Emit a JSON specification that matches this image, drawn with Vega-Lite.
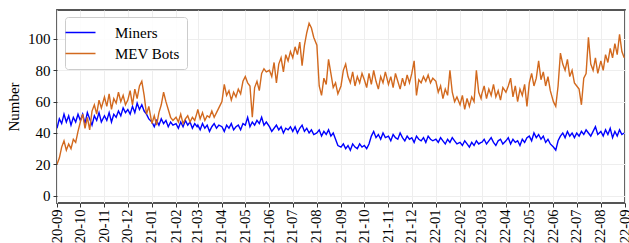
{
  "$schema": "https://vega.github.io/schema/vega-lite/v6.json",
  "width": 568,
  "height": 193,
  "autosize": {"type": "none"},
  "padding": {"left": 57, "top": 10, "right": 4, "bottom": 40},
  "background": "white",
  "config": {
    "view": {"stroke": "#555555", "strokeWidth": 1.8},
    "font": "Liberation Serif",
    "axis": {
      "labelFont": "Liberation Serif",
      "titleFont": "Liberation Serif",
      "labelFontSize": 15,
      "titleFontSize": 15,
      "titleFontWeight": "normal",
      "labelColor": "black",
      "titleColor": "black",
      "labelOverlap": false,
      "domain": false,
      "tickColor": "#333333",
      "tickSize": 4,
      "gridColor": "#eeeeee",
      "gridWidth": 1
    },
    "axisY": {"labelOverlap": false, "labelBound": false}
  },
  "data": {"values": [
    {"d":"2020-09-01","m":43,"b":20},{"d":"2020-09-04","m":49,"b":24},{"d":"2020-09-07","m":46,"b":31},{"d":"2020-09-10","m":52,"b":35},{"d":"2020-09-13","m":47,"b":29},{"d":"2020-09-16","m":51,"b":33},{"d":"2020-09-19","m":45,"b":30},{"d":"2020-09-22","m":50,"b":36},{"d":"2020-09-25","m":47,"b":34},{"d":"2020-09-28","m":52,"b":41},
    {"d":"2020-10-01","m":48,"b":47},{"d":"2020-10-04","m":52,"b":52},{"d":"2020-10-07","m":46,"b":43},{"d":"2020-10-10","m":53,"b":50},{"d":"2020-10-13","m":49,"b":42},{"d":"2020-10-16","m":45,"b":54},{"d":"2020-10-19","m":51,"b":58},{"d":"2020-10-22","m":48,"b":52},{"d":"2020-10-25","m":53,"b":61},{"d":"2020-10-28","m":47,"b":56},
    {"d":"2020-11-01","m":51,"b":63},{"d":"2020-11-04","m":48,"b":57},{"d":"2020-11-07","m":53,"b":65},{"d":"2020-11-10","m":47,"b":55},{"d":"2020-11-13","m":52,"b":62},{"d":"2020-11-16","m":50,"b":59},{"d":"2020-11-19","m":54,"b":66},{"d":"2020-11-22","m":51,"b":60},{"d":"2020-11-25","m":56,"b":64},{"d":"2020-11-28","m":53,"b":58},
    {"d":"2020-12-01","m":55,"b":61},{"d":"2020-12-04","m":52,"b":67},{"d":"2020-12-07","m":57,"b":58},{"d":"2020-12-10","m":53,"b":68},{"d":"2020-12-13","m":59,"b":62},{"d":"2020-12-16","m":55,"b":70},{"d":"2020-12-19","m":58,"b":73},{"d":"2020-12-22","m":54,"b":64},{"d":"2020-12-25","m":52,"b":52},{"d":"2020-12-28","m":49,"b":57},
    {"d":"2021-01-01","m":47,"b":46},{"d":"2021-01-04","m":44,"b":51},{"d":"2021-01-07","m":48,"b":45},{"d":"2021-01-10","m":45,"b":53},{"d":"2021-01-13","m":49,"b":58},{"d":"2021-01-16","m":46,"b":66},{"d":"2021-01-19","m":48,"b":60},{"d":"2021-01-22","m":44,"b":55},{"d":"2021-01-25","m":47,"b":50},{"d":"2021-01-28","m":45,"b":48},
    {"d":"2021-02-01","m":46,"b":50},{"d":"2021-02-04","m":43,"b":47},{"d":"2021-02-07","m":47,"b":52},{"d":"2021-02-10","m":44,"b":46},{"d":"2021-02-13","m":48,"b":49},{"d":"2021-02-16","m":45,"b":51},{"d":"2021-02-19","m":47,"b":47},{"d":"2021-02-22","m":43,"b":50},{"d":"2021-02-25","m":46,"b":48},{"d":"2021-02-28","m":44,"b":53},
    {"d":"2021-03-01","m":45,"b":55},{"d":"2021-03-04","m":42,"b":49},{"d":"2021-03-07","m":46,"b":53},{"d":"2021-03-10","m":43,"b":48},{"d":"2021-03-13","m":45,"b":51},{"d":"2021-03-16","m":41,"b":50},{"d":"2021-03-19","m":44,"b":54},{"d":"2021-03-22","m":46,"b":50},{"d":"2021-03-25","m":43,"b":53},{"d":"2021-03-28","m":45,"b":56},
    {"d":"2021-04-01","m":44,"b":60},{"d":"2021-04-04","m":41,"b":71},{"d":"2021-04-07","m":45,"b":64},{"d":"2021-04-10","m":43,"b":67},{"d":"2021-04-13","m":46,"b":61},{"d":"2021-04-16","m":42,"b":66},{"d":"2021-04-19","m":44,"b":63},{"d":"2021-04-22","m":45,"b":68},{"d":"2021-04-25","m":42,"b":65},{"d":"2021-04-28","m":46,"b":73},
    {"d":"2021-05-01","m":45,"b":76},{"d":"2021-05-04","m":50,"b":72},{"d":"2021-05-07","m":44,"b":70},{"d":"2021-05-10","m":47,"b":50},{"d":"2021-05-13","m":45,"b":69},{"d":"2021-05-16","m":48,"b":73},{"d":"2021-05-19","m":46,"b":67},{"d":"2021-05-22","m":50,"b":78},{"d":"2021-05-25","m":45,"b":81},{"d":"2021-05-28","m":47,"b":79},
    {"d":"2021-06-01","m":44,"b":80},{"d":"2021-06-04","m":41,"b":76},{"d":"2021-06-07","m":43,"b":85},{"d":"2021-06-10","m":45,"b":72},{"d":"2021-06-13","m":42,"b":84},{"d":"2021-06-16","m":44,"b":88},{"d":"2021-06-19","m":40,"b":79},{"d":"2021-06-22","m":43,"b":90},{"d":"2021-06-25","m":42,"b":86},{"d":"2021-06-28","m":44,"b":92},
    {"d":"2021-07-01","m":41,"b":88},{"d":"2021-07-04","m":44,"b":95},{"d":"2021-07-07","m":40,"b":90},{"d":"2021-07-10","m":43,"b":98},{"d":"2021-07-13","m":45,"b":83},{"d":"2021-07-16","m":41,"b":96},{"d":"2021-07-19","m":43,"b":104},{"d":"2021-07-22","m":40,"b":110},{"d":"2021-07-25","m":42,"b":107},{"d":"2021-07-28","m":39,"b":101},
    {"d":"2021-08-01","m":40,"b":96},{"d":"2021-08-04","m":42,"b":70},{"d":"2021-08-07","m":38,"b":64},{"d":"2021-08-10","m":41,"b":75},{"d":"2021-08-13","m":39,"b":71},{"d":"2021-08-16","m":42,"b":87},{"d":"2021-08-19","m":38,"b":78},{"d":"2021-08-22","m":40,"b":69},{"d":"2021-08-25","m":36,"b":72},{"d":"2021-08-28","m":32,"b":65},
    {"d":"2021-09-01","m":31,"b":70},{"d":"2021-09-04","m":33,"b":80},{"d":"2021-09-07","m":30,"b":84},{"d":"2021-09-10","m":32,"b":76},{"d":"2021-09-13","m":29,"b":72},{"d":"2021-09-16","m":33,"b":79},{"d":"2021-09-19","m":31,"b":70},{"d":"2021-09-22","m":30,"b":76},{"d":"2021-09-25","m":33,"b":72},{"d":"2021-09-28","m":31,"b":78},
    {"d":"2021-10-01","m":32,"b":74},{"d":"2021-10-04","m":30,"b":69},{"d":"2021-10-07","m":33,"b":78},{"d":"2021-10-10","m":38,"b":71},{"d":"2021-10-13","m":41,"b":80},{"d":"2021-10-16","m":37,"b":73},{"d":"2021-10-19","m":39,"b":68},{"d":"2021-10-22","m":36,"b":76},{"d":"2021-10-25","m":40,"b":72},{"d":"2021-10-28","m":37,"b":79},
    {"d":"2021-11-01","m":38,"b":71},{"d":"2021-11-04","m":35,"b":76},{"d":"2021-11-07","m":39,"b":69},{"d":"2021-11-10","m":37,"b":78},{"d":"2021-11-13","m":36,"b":73},{"d":"2021-11-16","m":40,"b":68},{"d":"2021-11-19","m":37,"b":75},{"d":"2021-11-22","m":35,"b":70},{"d":"2021-11-25","m":38,"b":77},{"d":"2021-11-28","m":36,"b":72},
    {"d":"2021-12-01","m":37,"b":78},{"d":"2021-12-04","m":34,"b":86},{"d":"2021-12-07","m":38,"b":64},{"d":"2021-12-10","m":36,"b":74},{"d":"2021-12-13","m":35,"b":72},{"d":"2021-12-16","m":37,"b":76},{"d":"2021-12-19","m":34,"b":73},{"d":"2021-12-22","m":38,"b":77},{"d":"2021-12-25","m":36,"b":72},{"d":"2021-12-28","m":35,"b":75},
    {"d":"2022-01-01","m":36,"b":73},{"d":"2022-01-04","m":34,"b":66},{"d":"2022-01-07","m":37,"b":70},{"d":"2022-01-10","m":35,"b":62},{"d":"2022-01-13","m":33,"b":68},{"d":"2022-01-16","m":36,"b":64},{"d":"2022-01-19","m":34,"b":80},{"d":"2022-01-22","m":37,"b":66},{"d":"2022-01-25","m":35,"b":60},{"d":"2022-01-28","m":33,"b":63},
    {"d":"2022-02-01","m":34,"b":58},{"d":"2022-02-04","m":32,"b":64},{"d":"2022-02-07","m":35,"b":55},{"d":"2022-02-10","m":33,"b":62},{"d":"2022-02-13","m":31,"b":57},{"d":"2022-02-16","m":34,"b":63},{"d":"2022-02-19","m":32,"b":60},{"d":"2022-02-22","m":35,"b":80},{"d":"2022-02-25","m":33,"b":66},{"d":"2022-02-28","m":34,"b":62},
    {"d":"2022-03-01","m":34,"b":65},{"d":"2022-03-04","m":36,"b":70},{"d":"2022-03-07","m":33,"b":62},{"d":"2022-03-10","m":35,"b":68},{"d":"2022-03-13","m":37,"b":64},{"d":"2022-03-16","m":34,"b":71},{"d":"2022-03-19","m":32,"b":63},{"d":"2022-03-22","m":35,"b":67},{"d":"2022-03-25","m":36,"b":61},{"d":"2022-03-28","m":33,"b":69},
    {"d":"2022-04-01","m":35,"b":66},{"d":"2022-04-04","m":37,"b":70},{"d":"2022-04-07","m":33,"b":75},{"d":"2022-04-10","m":36,"b":63},{"d":"2022-04-13","m":34,"b":70},{"d":"2022-04-16","m":35,"b":60},{"d":"2022-04-19","m":32,"b":68},{"d":"2022-04-22","m":36,"b":64},{"d":"2022-04-25","m":34,"b":71},{"d":"2022-04-28","m":37,"b":57},
    {"d":"2022-05-01","m":38,"b":72},{"d":"2022-05-04","m":35,"b":78},{"d":"2022-05-07","m":40,"b":70},{"d":"2022-05-10","m":37,"b":75},{"d":"2022-05-13","m":39,"b":86},{"d":"2022-05-16","m":36,"b":74},{"d":"2022-05-19","m":38,"b":79},{"d":"2022-05-22","m":34,"b":70},{"d":"2022-05-25","m":36,"b":76},{"d":"2022-05-28","m":33,"b":67},
    {"d":"2022-06-01","m":31,"b":60},{"d":"2022-06-04","m":29,"b":57},{"d":"2022-06-07","m":35,"b":70},{"d":"2022-06-10","m":38,"b":91},{"d":"2022-06-13","m":40,"b":84},{"d":"2022-06-16","m":37,"b":80},{"d":"2022-06-19","m":41,"b":87},{"d":"2022-06-22","m":38,"b":76},{"d":"2022-06-25","m":40,"b":80},{"d":"2022-06-28","m":37,"b":72},
    {"d":"2022-07-01","m":40,"b":70},{"d":"2022-07-04","m":38,"b":68},{"d":"2022-07-07","m":41,"b":58},{"d":"2022-07-10","m":39,"b":75},{"d":"2022-07-13","m":42,"b":78},{"d":"2022-07-16","m":40,"b":101},{"d":"2022-07-19","m":38,"b":84},{"d":"2022-07-22","m":41,"b":80},{"d":"2022-07-25","m":44,"b":88},{"d":"2022-07-28","m":39,"b":78},
    {"d":"2022-08-01","m":41,"b":86},{"d":"2022-08-04","m":38,"b":80},{"d":"2022-08-07","m":42,"b":90},{"d":"2022-08-10","m":39,"b":85},{"d":"2022-08-13","m":43,"b":94},{"d":"2022-08-16","m":37,"b":88},{"d":"2022-08-19","m":41,"b":97},{"d":"2022-08-22","m":38,"b":90},{"d":"2022-08-25","m":42,"b":103},{"d":"2022-08-28","m":39,"b":92},
    {"d":"2022-08-31","m":40,"b":88}
  ]},
  "encoding": {
    "x": {
      "field": "d",
      "type": "temporal",
      "scale": {"type": "utc", "domain": ["2020-09-01", "2022-09-01"], "nice": false},
      "axis": {
        "title": null,
        "labelExpr": "utcFormat(datum.value, '%y-%m')",
        "tickCount": {"interval": "month", "step": 1},
        "labelAngle": 270,
        "labelAlign": "right",
        "labelBaseline": "middle",
        "labelFontSize": 14.5,
        "labelPadding": 2,
        "labelFlush": false,
        "grid": true
      }
    }
  },
  "layer": [
    {
      "mark": {"type": "line", "strokeWidth": 1.4, "clip": true},
      "encoding": {
        "y": {
          "field": "m",
          "type": "quantitative",
          "scale": {"domain": [-4.7, 118.5], "nice": false, "zero": false},
          "axis": {"title": "Number", "values": [0, 20, 40, 60, 80, 100], "labelOverlap": false, "labelPadding": 3, "titlePadding": 6, "grid": true}
        },
        "color": {
          "datum": "Miners",
          "type": "nominal",
          "scale": {"domain": ["Miners", "MEV Bots"], "range": ["#0000ff", "#d2691e"]},
          "legend": {
            "title": null,
            "orient": "none",
            "legendX": 8,
            "legendY": 7,
            "symbolType": "M-2,0H2",
            "symbolSize": 225,
            "symbolStrokeWidth": 1.5,
            "labelFont": "Liberation Serif",
            "labelFontSize": 15,
            "labelColor": "black",
            "labelOffset": 26,
            "rowPadding": 4,
            "padding": 7,
            "fillColor": "rgba(255,255,255,0.85)",
            "strokeColor": "#cccccc",
            "cornerRadius": 3
          }
        }
      }
    },
    {
      "mark": {"type": "line", "strokeWidth": 1.4, "clip": true},
      "encoding": {
        "y": {
          "field": "b",
          "type": "quantitative",
          "scale": {"domain": [-4.7, 118.5], "nice": false, "zero": false},
          "axis": {"title": "Number", "values": [0, 20, 40, 60, 80, 100], "labelOverlap": false, "labelPadding": 3, "titlePadding": 6, "grid": true}
        },
        "color": {"datum": "MEV Bots", "type": "nominal"}
      }
    }
  ]
}
